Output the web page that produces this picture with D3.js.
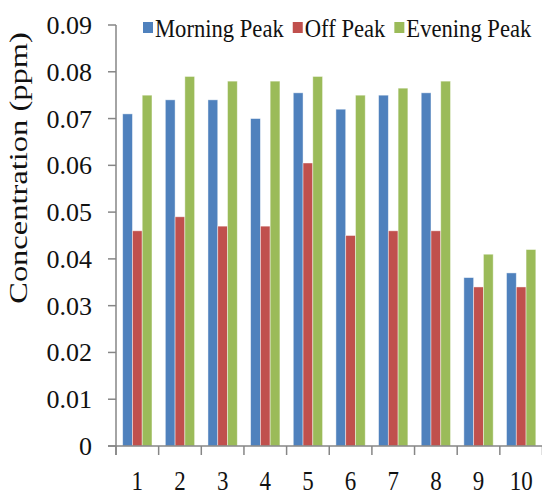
<!DOCTYPE html>
<html>
<head>
<meta charset="utf-8">
<script src="https://cdn.jsdelivr.net/npm/d3@7"></script>
<style>
  html, body { margin: 0; padding: 0; background: #fff; }
  svg { display: block; }
</style>
</head>
<body>
<svg id="chart" width="542" height="496"></svg>
<script>
// Sites 1-10 and the three sampling periods
const categories = ["1", "2", "3", "4", "5", "6", "7", "8", "9", "10"];
const seriesNames = ["Morning Peak", "Off Peak", "Evening Peak"];
const seriesColors = ["#4F81BD", "#C0504D", "#9BBB59"];
const morningPeak = [0.071, 0.074, 0.074, 0.070, 0.0755, 0.072, 0.075, 0.0755, 0.036, 0.037];
const offPeak     = [0.046, 0.049, 0.047, 0.047, 0.0605, 0.045, 0.046, 0.046, 0.034, 0.034];
const eveningPeak = [0.075, 0.079, 0.078, 0.078, 0.079, 0.075, 0.0765, 0.078, 0.041, 0.042];
const yTicks = [0, 0.01, 0.02, 0.03, 0.04, 0.05, 0.06, 0.07, 0.08, 0.09];
const yTickLabels = ["0", "0.01", "0.02", "0.03", "0.04", "0.05", "0.06", "0.07", "0.08", "0.09"];

const seriesValues = [morningPeak, offPeak, eveningPeak];
const rows = categories.map((c, i) => ({
  cat: c,
  values: seriesNames.map((s, j) => ({ series: s, color: seriesColors[j], value: seriesValues[j][i] }))
}));

const svg = d3.select("#chart");
const axisColor = "#868686";
const textColor = "#111";
const fontFace = "Liberation Serif";

const plot = { left: 116, right: 542.5, top: 25, bottom: 446 };

const x0 = d3.scaleBand().domain(categories).range([plot.left, plot.right]).paddingInner(0).paddingOuter(0);
const x1 = d3.scaleBand().domain(seriesNames).range([0, x0.bandwidth()]).paddingInner(0).paddingOuter(0.683);
const y = d3.scaleLinear().domain([0, 0.09]).range([plot.bottom, plot.top]);

// Bars
const groups = svg.append("g").selectAll("g").data(rows).join("g")
  .attr("transform", d => `translate(${x0(d.cat)},0)`);
groups.selectAll("rect").data(d => d.values).join("rect")
  .attr("x", d => x1(d.series))
  .attr("y", d => y(d.value))
  .attr("width", x1.bandwidth())
  .attr("height", d => y(0) - y(d.value))
  .attr("fill", d => d.color)
  .attr("stroke", "rgba(255,255,255,0.55)")
  .attr("stroke-width", 0.8);

// Y axis
const yAxis = svg.append("g");
yAxis.append("line")
  .attr("x1", plot.left).attr("x2", plot.left)
  .attr("y1", y(0.09)).attr("y2", y(0) + 9)
  .attr("stroke", axisColor).attr("stroke-width", 1.5);
yAxis.selectAll(".ytick").data(yTicks).join("line")
  .attr("x1", plot.left - 8).attr("x2", plot.left)
  .attr("y1", d => y(d)).attr("y2", d => y(d))
  .attr("stroke", axisColor).attr("stroke-width", 1.5);
yAxis.selectAll(".ylab").data(yTicks).join("text")
  .attr("x", 92)
  .attr("y", d => y(d) + 9)
  .attr("text-anchor", "end")
  .attr("font-family", fontFace)
  .attr("font-size", 26)
  .attr("fill", textColor)
  .text((d, i) => yTickLabels[i]);

// X axis
const xAxis = svg.append("g");
xAxis.append("line")
  .attr("x1", plot.left - 8).attr("x2", plot.right)
  .attr("y1", y(0)).attr("y2", y(0))
  .attr("stroke", axisColor).attr("stroke-width", 1.5);
const boundaries = categories.map(c => x0(c)).concat([plot.right]);
xAxis.selectAll(".xtick").data(boundaries).join("line")
  .attr("x1", d => d).attr("x2", d => d)
  .attr("y1", y(0)).attr("y2", y(0) + 9)
  .attr("stroke", axisColor).attr("stroke-width", 1.5);
xAxis.selectAll(".xlab").data(categories).join("text")
  .attr("transform", d => `translate(${x0(d) + x0.bandwidth() / 2},490) scale(0.85,1)`)
  .attr("text-anchor", "middle")
  .attr("font-family", fontFace)
  .attr("font-size", 27)
  .attr("fill", textColor)
  .text(d => d);

// Axis title
svg.append("text")
  .attr("transform", "translate(27,168) rotate(-90) scale(1.3,1)")
  .attr("text-anchor", "middle")
  .attr("font-family", fontFace)
  .attr("font-size", 25)
  .attr("fill", textColor)
  .text("Concentration (ppm)");

// Legend
const legend = svg.append("g");
let lx = 143;
seriesNames.forEach((name, i) => {
  legend.append("rect")
    .attr("x", lx).attr("y", 22).attr("width", 10).attr("height", 11)
    .attr("fill", seriesColors[i]);
  const t = legend.append("text")
    .attr("transform", `translate(${lx + 12},37) scale(0.87,1)`)
    .attr("font-family", fontFace)
    .attr("font-size", 26)
    .attr("fill", textColor)
    .text(name);
  const w = t.node().getComputedTextLength() * 0.87;
  lx += 12 + w + 9;
});
</script>
</body>
</html>
